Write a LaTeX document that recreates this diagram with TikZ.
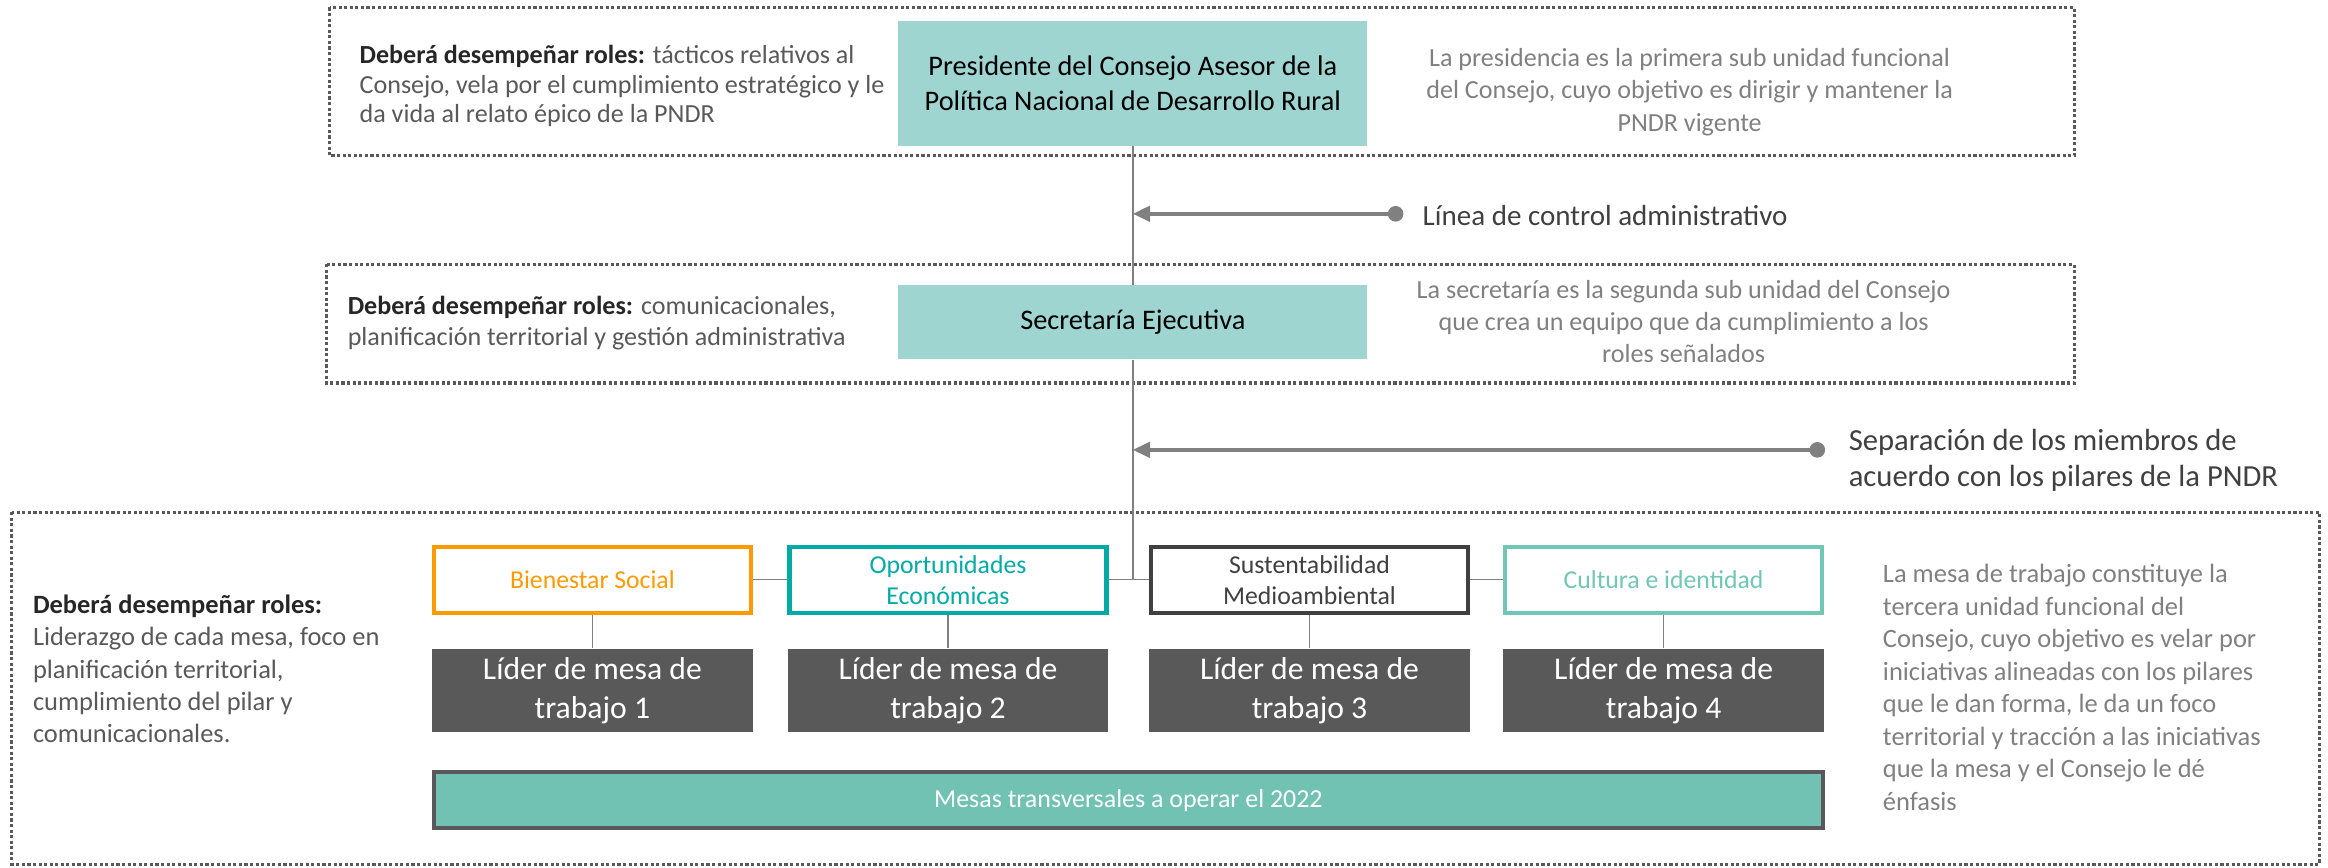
\documentclass[tikz,border=0pt]{standalone}
\usepackage{fontspec}
\setmainfont{Carlito}
\usetikzlibrary{arrows.meta}
\definecolor{tealclaro}{HTML}{9FD5D1}
\definecolor{barra}{HTML}{71C2B3}
\definecolor{naranja}{HTML}{FF9A00}
\definecolor{tealfuerte}{HTML}{00ABA6}
\definecolor{tealsuave}{HTML}{72C6B5}
\definecolor{oscuro}{HTML}{404040}
\definecolor{gris}{HTML}{595959}
\definecolor{grisclaro}{HTML}{808080}
\tikzset{
	marco/.style={draw=gris,line width=1.8pt,dash pattern=on 1.8pt off 1.4pt},
	caja/.style={fill=tealclaro,text=black,minimum width=9.48cm,align=center,font=\fontsize{16.3}{20.5}\selectfont},
	pilar/.style={draw=#1,text=#1,fill=white,line width=2.5pt,minimum width=6.4cm,minimum height=1.33cm,align=center,font=\fontsize{14.8}{17.8}\selectfont},
	lider/.style={fill=gris,text=white,minimum width=6.48cm,minimum height=1.68cm,align=center,font=\fontsize{18.2}{22.5}\selectfont},
	nota/.style={anchor=west,inner sep=0pt,align=left,text=gris,font=\fontsize{15}{17}\selectfont},
	notader/.style={inner sep=0pt,align=center,text=grisclaro,font=\fontsize{15}{18.7}\selectfont},
	linea/.style={draw=grisclaro,line width=0.8pt},
	flecha/.style={draw=grisclaro,line width=2pt,-{Triangle[length=10pt,width=9pt]}},
	punto/.style={fill=grisclaro},
	etiqueta/.style={anchor=west,inner sep=0pt,align=left,text=oscuro,font=\fontsize{16.7}{20.5}\selectfont}
}
\newcommand{\rolestit}{\textbf{\color{black!85}Deberá desempeñar roles:}}
\begin{document}
\begin{tikzpicture}[x=0.03cm,y=-0.03cm]%ORGANIGRAMA CONSEJO
	\useasboundingbox (0,0) rectangle (1568,584);
	% marcos punteados
	\draw[marco] (222,5) rectangle (1397,105);
	\draw[marco] (220,178) rectangle (1397,258);
	\draw[marco] (8,345) rectangle (1562,582);
	% presidencia y secretaria
	\node[caja,minimum height=2.52cm] (pres) at (763,56) {Presidente del Consejo Asesor de la\\Política Nacional de Desarrollo Rural};
	\node[caja,minimum height=1.5cm] (sec) at (763,217) {Secretaría Ejecutiva};
	\node[nota,font=\fontsize{15}{17}\selectfont] (rolpres) at (242,58) {\rolestit{} tácticos relativos al\\Consejo, vela por el cumplimiento estratégico y le\\da vida al relato épico de la PNDR};
	\node[nota,font=\fontsize{15}{18}\selectfont] (rolsec) at (234,217.5) {\rolestit{} comunicacionales,\\planificación territorial y gestión administrativa};
	\node[notader] (descpres) at (1138,62) {La presidencia es la primera sub unidad funcional\\del Consejo, cuyo objetivo es dirigir y mantener la\\PNDR vigente};
	\node[notader,font=\fontsize{15}{18.3}\selectfont] (descsec) at (1134,216.5) {La secretaría es la segunda sub unidad del Consejo\\que crea un equipo que da cumplimiento a los\\roles señalados};
	% mesas de trabajo
	\foreach \i/\xc/\col/\txt in {1/399/naranja/{Bienestar Social},2/638.5/tealfuerte/{Oportunidades\\Económicas},3/882/oscuro/{Sustentabilidad\\Medioambiental},4/1120.5/tealsuave/{Cultura e identidad}}{
		\node[pilar=\col] (p\i) at (\xc,390.5) {\txt};
		\node[lider] (l\i) at (\xc,465) {Líder de mesa de\\trabajo \i};
		\draw[linea] (p\i) -- (l\i);
	}
	\draw[linea] (p1) -- (p2);
	\draw[linea] (p2) -- (p3);
	\draw[linea] (p3) -- (p4);
	\node[draw=gris,line width=2.5pt,fill=barra,text=white,minimum width=28.06cm,minimum height=1.13cm,font=\fontsize{14.9}{17}\selectfont] (trans) at (760,539) {Mesas transversales a operar el 2022};
	\node[nota,font=\fontsize{15.2}{18.5}\selectfont] (rolmesa) at (22,450.5) {\rolestit\\Liderazgo de cada mesa, foco en\\planificación territorial,\\cumplimiento del pilar y\\comunicacionales.};
	\node[nota,text=grisclaro,font=\fontsize{15.2}{18.7}\selectfont] (descmesa) at (1268,463) {La mesa de trabajo constituye la\\tercera unidad funcional del\\Consejo, cuyo objetivo es velar por\\iniciativas alineadas con los pilares\\que le dan forma, le da un foco\\territorial y tracción a las iniciativas\\que la mesa y el Consejo le dé\\énfasis};
	% lineas de mando
	\coordinate (cruce) at (sec.south |- p2.east);
	\draw[linea] (pres) -- (sec);
	\draw[linea] (sec) -- (cruce);
	\coordinate (d1) at (940,144);
	\coordinate (d2) at (1224,303);
	\draw[flecha] (d1) -- (pres.south |- d1);
	\draw[flecha] (d2) -- (pres.south |- d2);
	\fill[punto] (d1) circle[radius=4.5pt];
	\fill[punto] (d2) circle[radius=4.5pt];
	\node[etiqueta] (lbl1) at (958,145) {Línea de control administrativo};
	\node[etiqueta,font=\fontsize{17.6}{20.5}\selectfont] (lbl2) at (1245,310) {Separación de los miembros de\\acuerdo con los pilares de la PNDR};
\end{tikzpicture}
\end{document}
